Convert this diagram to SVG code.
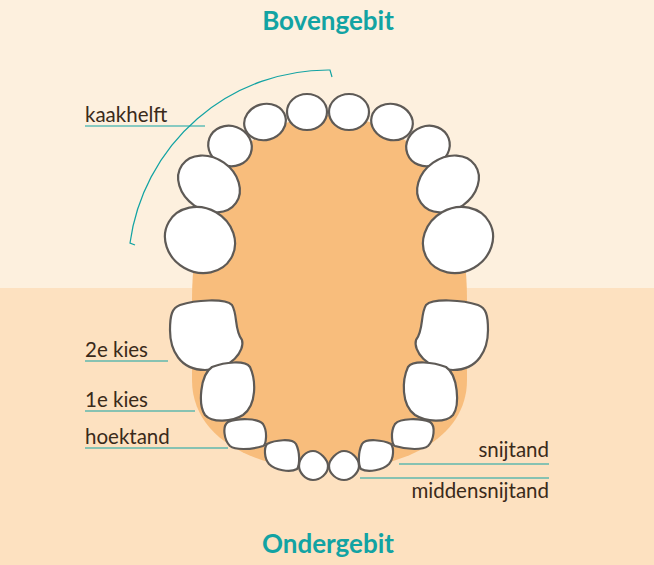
<svg xmlns="http://www.w3.org/2000/svg" width="654" height="565" viewBox="0 0 654 565">
<style>
.t{fill:#fff;stroke:#5e5a56;stroke-width:2.2}
.l{fill:#3a2a1a;font-family:Lato,"Open Sans",sans-serif;font-size:20.5px}
.h{fill:#12a3a3;font-family:Lato,"Open Sans",sans-serif;font-size:26px;font-weight:bold;text-anchor:middle}
.c{stroke:#12a3a3;stroke-width:1.2;fill:none}
</style>
<rect width="654" height="288" fill="#fdf0de"/>
<rect y="288" width="654" height="277" fill="#fde1c0"/>
<path d="M192,300 C192,200 230,120 329,115 C428,120 467,200 467,300 L467,380 C467,440 400,470 329,470 C258,470 192,440 192,380 Z" fill="#f8bd7c"/>
<g id="upper">
<ellipse class="t" cx="307" cy="112" rx="20" ry="18"/>
<ellipse class="t" cx="349" cy="112" rx="20" ry="18"/>
<ellipse class="t" cx="265" cy="122" rx="21" ry="18" transform="rotate(-15 265 122)"/>
<ellipse class="t" cx="392" cy="122" rx="21" ry="18" transform="rotate(15 392 122)"/>
<ellipse class="t" cx="230" cy="146" rx="22" ry="20" transform="rotate(20 230 146)"/>
<ellipse class="t" cx="428" cy="146" rx="22" ry="20" transform="rotate(-20 428 146)"/>
<ellipse class="t" cx="209" cy="184" rx="33" ry="26" transform="rotate(35 209 184)"/>
<ellipse class="t" cx="448" cy="184" rx="33" ry="26" transform="rotate(-35 448 184)"/>
<ellipse class="t" cx="200" cy="240" rx="36" ry="32" transform="rotate(30 200 240)"/>
<ellipse class="t" cx="458" cy="240" rx="36" ry="32" transform="rotate(-30 458 240)"/>
</g>
<g id="lower">
<path class="t" d="M180,305 C195,300 225,298 232,305 C238,315 234,330 242,340 C245,350 232,370 205,370 C180,370 170,350 170,330 C170,315 172,308 180,305 Z"/>
<path class="t" d="M478,305 C463,300 433,298 426,305 C420,315 424,330 416,340 C413,350 426,370 453,370 C478,370 488,350 488,330 C488,315 486,308 478,305 Z"/>
<path class="t" d="M212,367 C225,362 245,360 250,367 C256,380 257,405 243,415 C232,422 212,423 205,415 C198,405 200,375 212,367 Z"/>
<path class="t" d="M446,367 C433,362 413,360 408,367 C402,380 401,405 415,415 C426,422 446,423 453,415 C460,405 458,375 446,367 Z"/>
<path class="t" d="M228,422 C238,418 258,418 263,424 C268,432 266,445 263,446 C250,450 235,450 230,446 C224,440 222,426 228,422 Z"/>
<path class="t" d="M430,422 C420,418 400,418 395,424 C390,432 392,445 395,446 C408,450 423,450 428,446 C434,440 436,426 430,422 Z"/>
<path class="t" d="M267,444 C275,440 292,438 296,444 C300,452 300,465 297,469 C290,473 275,470 269,464 C264,458 264,448 267,444 Z"/>
<path class="t" d="M391,444 C383,440 366,438 362,444 C358,452 358,465 361,469 C368,473 383,470 389,464 C394,458 394,448 391,444 Z"/>
<path class="t" d="M313,451 C320,451 328,460 328,466 C328,474 320,480 313,480 C305,480 299,472 299,466 C299,458 306,451 313,451 Z"/>
<path class="t" d="M344,451 C351,451 359,458 359,466 C359,472 352,480 344,480 C337,480 329,474 329,466 C329,460 337,451 344,451 Z"/>
</g>
<g id="connectors">
<path class="c" d="M135,245 L130,243 A200,200 0 0 1 330,70 L332,77"/>
<path class="c" d="M85,126 H205"/>
<path class="c" d="M85,361 H168"/>
<path class="c" d="M85,411 H195"/>
<path class="c" d="M85,448 H228"/>
<path class="c" d="M399,464 H549"/>
<path class="c" d="M360,478 H549"/>
</g>
<g id="labels">
<text class="h" x="328" y="30">Bovengebit</text>
<text class="h" x="328" y="553">Ondergebit</text>
<text class="l" x="85" y="122">kaakhelft</text>
<text class="l" x="85" y="357">2e kies</text>
<text class="l" x="85" y="407">1e kies</text>
<text class="l" x="85" y="444">hoektand</text>
<text class="l" x="549" y="457" text-anchor="end">snijtand</text>
<text class="l" x="549" y="498" text-anchor="end">middensnijtand</text>
</g>
</svg>
